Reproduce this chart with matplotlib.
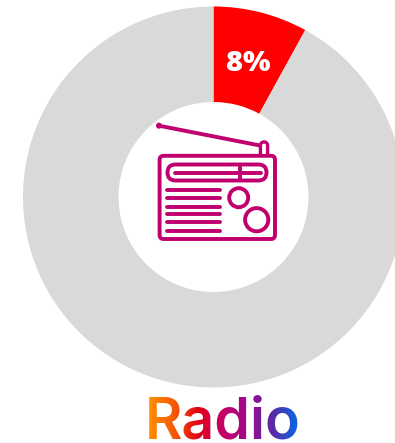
#! /usr/bin/env python

import numpy as np
import matplotlib
matplotlib.use("Agg")
import matplotlib.pyplot as plt
from matplotlib.colors import LinearSegmentedColormap
from matplotlib.font_manager import FontProperties
from matplotlib.patches import Circle, FancyBboxPatch
from matplotlib.textpath import TextPath

WIDTH, HEIGHT = 395, 443

shares = [8, 92]
slice_colors = ["#ff0000", "#d9d9d9"]
title = "Radio"
title_stops = ["#ff8c00", "#f65a04", "#e2001a", "#c4006a", "#9c0a8c", "#5a2aa5", "#0a66e6"]

ICON = "#c0006e"
LW = 2.8  # about 4 px strokes

title_cmap = LinearSegmentedColormap.from_list("title", title_stops)


def py(y):
    # the axes run in pixels, y measured from the bottom
    return HEIGHT - y


def gradient_fill(img, dpi):
    # keep the glyph coverage, swap the colour for a left to right ramp
    out = img.copy()
    out[..., :3] = title_cmap(np.linspace(0, 1, img.shape[1]))[:, :3]
    return out, 0, 0


def draw_radio(ax):
    line = dict(color=ICON, lw=LW, solid_capstyle="round")
    body = FancyBboxPatch((159.6, py(239)), 115.4, 83.2, boxstyle="round,pad=0,rounding_size=4",
                          fc="none", ec=ICON, lw=LW)
    ax.add_patch(body)
    dial = FancyBboxPatch((167.5, py(180.5)), 99, 16, boxstyle="round,pad=0,rounding_size=8",
                          fc="none", ec=ICON, lw=LW)
    ax.add_patch(dial)
    ax.plot([175, 261], [py(172.5), py(172.5)], **line)
    ax.plot([239.5, 239.5], [py(164), py(181)], color=ICON, lw=LW, solid_capstyle="butt")

    for y in [190.3, 198.3, 206.7, 214.3, 222.3, 230.7]:
        ax.plot([167, 220], [py(y), py(y)], **line)

    ax.add_patch(Circle((238.7, py(197.7)), 9.5, fc="none", ec=ICON, lw=LW))
    ax.add_patch(Circle((256.7, py(219.7)), 11.6, fc="none", ec=ICON, lw=LW))

    # antenna and its socket
    ax.plot([159, 260], [py(125.7), py(145.5)], color=ICON, lw=2.8, solid_capstyle="round")
    ax.add_patch(Circle((159, py(125.7)), 3, fc=ICON, ec="none"))
    t = np.linspace(0, np.pi, 20)
    sx = 264 + 3.6 * np.cos(t)
    sy = 145.5 - 3.6 * np.sin(t)
    ax.plot(np.r_[260.4, sx[::-1], 267.6], py(np.r_[155, sy[::-1], 155]),
            color=ICON, lw=2.4, solid_capstyle="butt")


def draw_title(ax):
    fp = FontProperties(family="Inter", weight="semibold")
    ext = TextPath((0, 0), title, size=1, prop=fp).get_extents()
    left, right = 149, 298
    size = (right - left) / ext.width
    txt = ax.text(left - ext.x0 * size, py(438.5), title, fontproperties=fp, fontsize=size * 0.72,
                  color=title_stops[3], ha="left", va="baseline")
    txt.set_agg_filter(gradient_fill)


fig = plt.figure(figsize=(WIDTH / 100, HEIGHT / 100), dpi=100)
ax = fig.add_axes([0, 0, 1, 1])

cx, cy, outer, inner = 213.5, py(197), 190.5, 95
ax.pie(shares, colors=slice_colors, startangle=90, counterclock=False,
       center=(cx, cy), radius=outer, wedgeprops=dict(width=outer - inner, lw=0))

mid = np.deg2rad(shares[0] / sum(shares) * 360 / 2)
ring = 141.5
ax.text(cx + ring * np.sin(mid), cy + ring * np.cos(mid), f"{shares[0]}%", color="white",
        family="Open Sans", weight=800, fontsize=21, ha="center", va="center_baseline", zorder=4)

draw_radio(ax)
draw_title(ax)

ax.set_xlim(0, WIDTH)
ax.set_ylim(0, HEIGHT)
ax.set_aspect("auto")
ax.axis("off")
fig.savefig("out.png", dpi=100, facecolor="white")
